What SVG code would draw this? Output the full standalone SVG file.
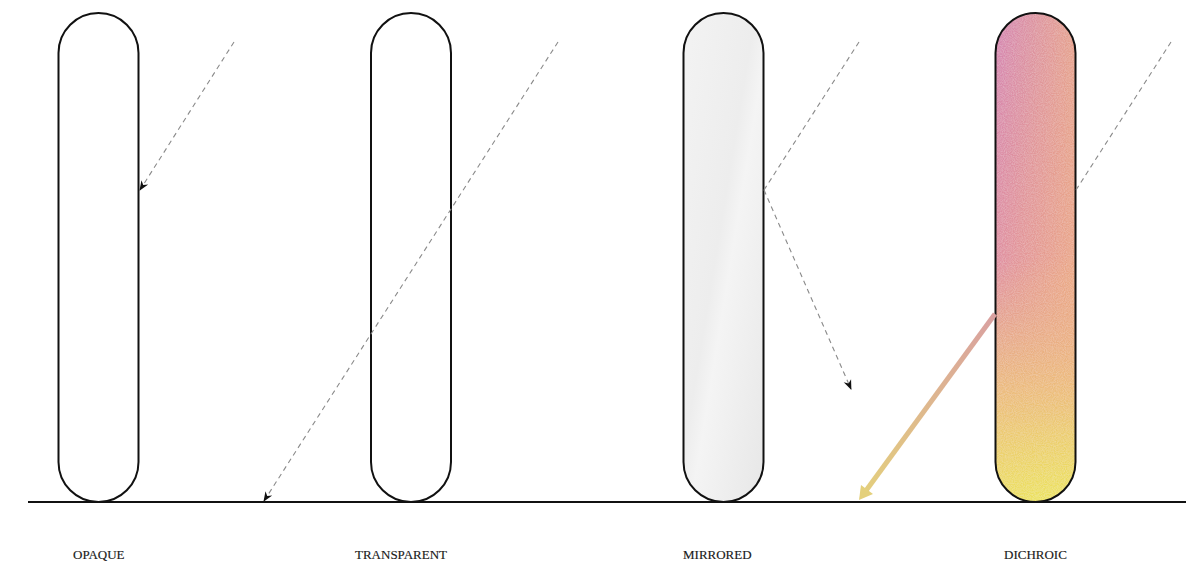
<svg xmlns="http://www.w3.org/2000/svg" width="1192" height="569" viewBox="0 0 1192 569">
  <style>
    .pill { stroke: #111; stroke-width: 2; }
    .ray { fill: none; stroke: #8a8a8a; stroke-width: 1.1; stroke-dasharray: 5 4; }
    .label { font-family: "Liberation Serif", "Times New Roman", serif; font-size: 13px; fill: #1a1a1a; stroke: #1a1a1a; stroke-width: 0.15; }
    .ground { stroke: #111; stroke-width: 2; }
  </style>
  <defs>
    <marker id="head" viewBox="0 0 10 10" refX="9" refY="5" markerWidth="10" markerHeight="10" markerUnits="userSpaceOnUse" orient="auto">
      <path d="M0,1 L10,5 L0,9 L3,5 Z" fill="#111"/>
    </marker>
    <linearGradient id="mirror" x1="0" y1="0" x2="1" y2="1">
      <stop offset="0" stop-color="#f3f3f3"/>
      <stop offset="0.45" stop-color="#ededed"/>
      <stop offset="0.55" stop-color="#f4f4f4"/>
      <stop offset="1" stop-color="#e7e7e7"/>
    </linearGradient>
    <!-- dichroic coating: pink at the top shading down to yellow -->
    <linearGradient id="dichroic" gradientUnits="userSpaceOnUse" x1="1000" y1="13" x2="1070" y2="502">
      <stop offset="0" stop-color="#d585b3"/>
      <stop offset="0.5" stop-color="#e08fa1"/>
      <stop offset="0.76" stop-color="#ecbc7c"/>
      <stop offset="1" stop-color="#ece45a"/>
    </linearGradient>
    <!-- warm orange cast towards the right edge -->
    <linearGradient id="tint" gradientUnits="userSpaceOnUse" x1="995" y1="0" x2="1075" y2="0">
      <stop offset="0" stop-color="#f0b474" stop-opacity="0"/>
      <stop offset="1" stop-color="#f0b474" stop-opacity="0.6"/>
    </linearGradient>
    <linearGradient id="fadeDown" gradientUnits="userSpaceOnUse" x1="0" y1="13" x2="0" y2="502">
      <stop offset="0" stop-color="#fff"/>
      <stop offset="0.55" stop-color="#fff"/>
      <stop offset="0.85" stop-color="#000"/>
    </linearGradient>
    <mask id="tintMask">
      <rect x="990" y="10" width="90" height="495" fill="url(#fadeDown)"/>
    </mask>
    <linearGradient id="beam" gradientUnits="userSpaceOnUse" x1="995" y1="314" x2="860" y2="499">
      <stop offset="0" stop-color="#d9a0a0"/>
      <stop offset="1" stop-color="#e4d07c"/>
    </linearGradient>
    <filter id="grain" x="0" y="0" width="100%" height="100%">
      <feTurbulence type="fractalNoise" baseFrequency="0.9" numOctaves="2" seed="3" result="n"/>
      <feColorMatrix in="n" type="matrix" values="0 0 0 0 1  0 0 0 0 1  0 0 0 0 1  0 0 0 0.35 -0.1" result="w"/>
      <feComposite in="w" in2="SourceGraphic" operator="in" result="g"/>
      <feMerge><feMergeNode in="SourceGraphic"/><feMergeNode in="g"/></feMerge>
    </filter>
  </defs>

  <rect width="1192" height="569" fill="#fff"/>

  <!-- ground line -->
  <line class="ground" x1="28" y1="502" x2="1186" y2="502"/>

  <!-- panels -->
  <g id="opaque">
    <rect class="pill" x="58.5" y="13" width="80" height="489" rx="40" fill="#fff"/>
    <text class="label" x="73" y="559">OPAQUE</text>
  </g>
  <g id="transparent">
    <rect class="pill" x="371" y="13" width="80" height="489" rx="40" fill="#fff"/>
    <text class="label" x="355" y="559">TRANSPARENT</text>
  </g>
  <g id="mirrored">
    <rect class="pill" x="683.5" y="13" width="80" height="489" rx="40" fill="url(#mirror)"/>
    <text class="label" x="683" y="559">MIRRORED</text>
  </g>
  <g id="dichroic-panel">
    <g filter="url(#grain)">
      <rect x="995.5" y="13" width="80" height="489" rx="40" fill="url(#dichroic)"/>
      <rect x="995.5" y="13" width="80" height="489" rx="40" fill="url(#tint)" mask="url(#tintMask)"/>
    </g>
    <rect class="pill" x="995.5" y="13" width="80" height="489" rx="40" fill="none"/>
    <text class="label" x="1004" y="559">DICHROIC</text>
  </g>

  <!-- light rays -->
  <g id="connectors">
    <line class="ray" x1="234" y1="42" x2="140" y2="190" marker-end="url(#head)"/>
    <line class="ray" x1="558" y1="42" x2="264" y2="501" marker-end="url(#head)"/>
    <line class="ray" x1="859" y1="42" x2="764" y2="190"/>
    <line class="ray" x1="764" y1="190" x2="851" y2="389" marker-end="url(#head)"/>
    <line class="ray" x1="1171" y1="42" x2="1076" y2="190"/>
    <line x1="995" y1="314" x2="865" y2="492" stroke="url(#beam)" stroke-width="5"/>
    <path d="M859,500 L861,485 L867,489.5 L873,494 Z" fill="#e4d07c"/>
  </g>
</svg>
